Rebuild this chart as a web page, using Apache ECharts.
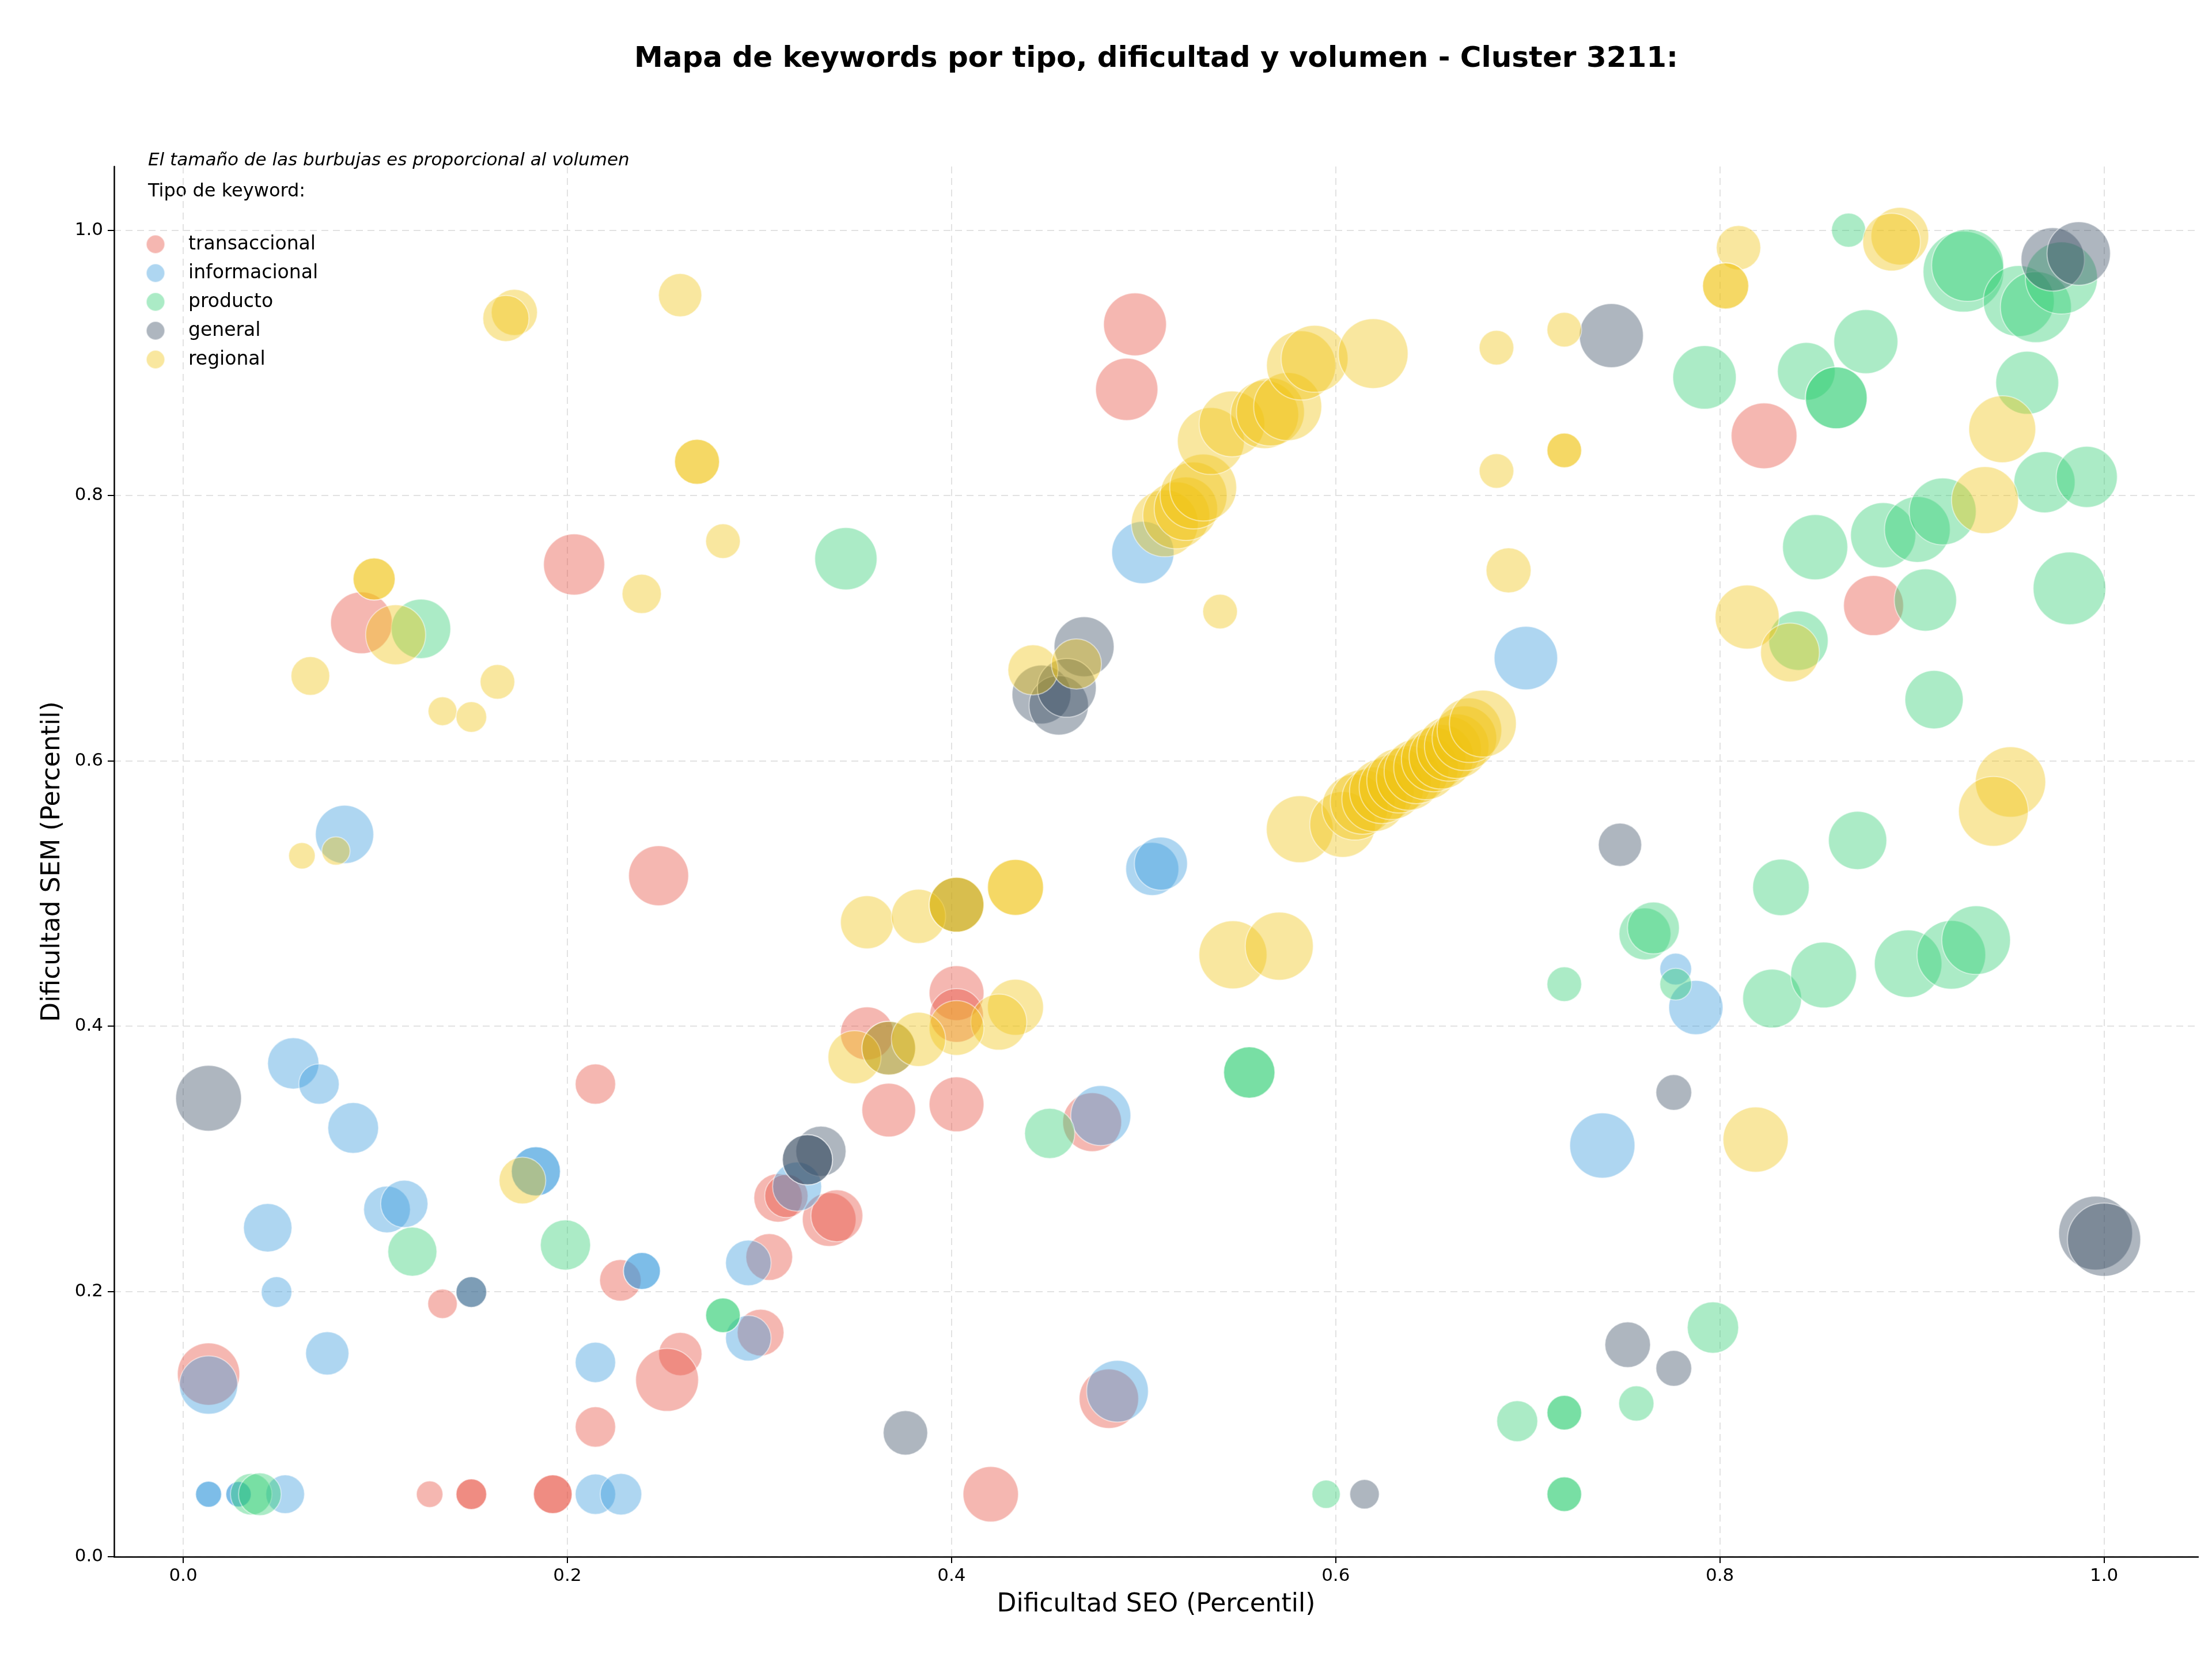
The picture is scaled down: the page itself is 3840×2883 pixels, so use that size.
<!DOCTYPE html>
<html>
<head>
<meta charset="utf-8">
<script src="https://cdn.jsdelivr.net/npm/echarts@6/dist/echarts.min.js"></script>
<style>
  html, body { margin: 0; padding: 0; background: #fff; }
  #chart { width: 3840px; height: 2883px; }
</style>
</head>
<body>
<div id="chart"></div>
<script>
// [dificultad SEO, dificultad SEM, volumen]
var transaccional = [
  [0.0132, 0.1377, 729], [0.0928, 0.704, 716], [0.2035, 0.748, 702], [0.2475, 0.5134, 676],
  [0.2146, 0.3563, 306], [0.135, 0.1907, 163], [0.2276, 0.2084, 324], [0.2588, 0.1528, 352],
  [0.2519, 0.1333, 743], [0.2146, 0.0978, 306], [0.1283, 0.0471, 132], [0.150, 0.0471, 176],
  [0.150, 0.0471, 176], [0.1924, 0.0471, 281], [0.1924, 0.0471, 281], [0.4204, 0.0471, 576],
  [0.3051, 0.2259, 410], [0.3006, 0.169, 410], [0.4955, 0.929, 743], [0.4912, 0.880, 729],
  [0.4026, 0.4249, 564], [0.4026, 0.408, 541], [0.356, 0.3945, 529], [0.3673, 0.3367, 541],
  [0.4026, 0.341, 564], [0.3097, 0.2705, 441], [0.314, 0.272, 352], [0.3363, 0.2542, 541],
  [0.3403, 0.257, 506], [0.4732, 0.3276, 650], [0.4819, 0.1191, 663], [0.823, 0.845, 812],
  [0.880, 0.717, 676]
];
var informacional = [
  [0.0132, 0.1294, 638], [0.0573, 0.3719, 495], [0.0707, 0.3563, 306], [0.0885, 0.3232, 484],
  [0.044, 0.248, 441], [0.1061, 0.2618, 410], [0.1151, 0.266, 420], [0.1836, 0.2905, 452],
  [0.1836, 0.2905, 452], [0.0486, 0.1995, 176], [0.150, 0.1995, 176], [0.2388, 0.2154, 256],
  [0.2388, 0.2154, 256], [0.075, 0.1533, 352], [0.2146, 0.1465, 306], [0.0132, 0.0471, 127],
  [0.0132, 0.0471, 127], [0.0288, 0.0471, 121], [0.0288, 0.0471, 121], [0.0531, 0.0471, 281],
  [0.2146, 0.0471, 306], [0.2279, 0.0471, 324], [0.084, 0.5445, 638], [0.4996, 0.757, 729],
  [0.5045, 0.5185, 529], [0.509, 0.5225, 529], [0.3196, 0.279, 452], [0.2942, 0.2215, 390],
  [0.2942, 0.1647, 390], [0.4777, 0.3326, 676], [0.4864, 0.1248, 716], [0.699, 0.6774, 756],
  [0.7388, 0.310, 798], [0.777, 0.443, 189], [0.7875, 0.414, 552]
];
var producto = [
  [0.1238, 0.6995, 663], [0.345, 0.7523, 729], [0.1193, 0.230, 452], [0.199, 0.235, 473],
  [0.0354, 0.0471, 324], [0.0399, 0.0471, 342], [0.281, 0.182, 225], [0.281, 0.182, 225],
  [0.4511, 0.3191, 473], [0.555, 0.365, 495], [0.555, 0.365, 495], [0.595, 0.0471, 150],
  [0.6945, 0.1022, 315], [0.719, 0.1086, 225], [0.719, 0.1086, 225], [0.719, 0.0471, 225],
  [0.719, 0.0471, 225], [0.7565, 0.1155, 233], [0.719, 0.4316, 225], [0.761, 0.4695, 506],
  [0.7654, 0.474, 506], [0.777, 0.4316, 189], [0.7964, 0.1728, 495], [0.8318, 0.5046, 600],
  [0.8272, 0.4208, 650], [0.854, 0.4385, 812], [0.898, 0.447, 856], [0.9205, 0.4537, 885],
  [0.9334, 0.4648, 885], [0.8717, 0.540, 638], [0.9115, 0.6461, 638], [0.8409, 0.6906, 663],
  [0.907, 0.7212, 729], [0.982, 0.730, 992], [0.8496, 0.761, 798], [0.885, 0.770, 798],
  [0.9028, 0.7744, 812], [0.916, 0.788, 841], [0.969, 0.810, 702], [0.991, 0.814, 702],
  [0.960, 0.885, 743], [0.792, 0.889, 756], [0.845, 0.8936, 625], [0.8606, 0.8736, 716],
  [0.8606, 0.8736, 716], [0.876, 0.916, 770], [0.867, 1.0, 218], [0.9268, 0.9687, 1225],
  [0.929, 0.9735, 977], [0.9556, 0.9466, 946], [0.9645, 0.942, 946], [0.9778, 0.964, 977]
];
var general = [
  [0.0132, 0.3456, 812], [0.150, 0.1995, 176], [0.376, 0.0934, 371], [0.615, 0.0471, 163],
  [0.332, 0.3057, 473], [0.325, 0.2992, 473], [0.325, 0.2992, 473], [0.3673, 0.3834, 541],
  [0.4026, 0.4915, 564], [0.469, 0.686, 676], [0.4468, 0.650, 650], [0.4558, 0.6418, 663],
  [0.460, 0.655, 650], [0.7435, 0.9205, 770], [0.748, 0.5367, 352], [0.776, 0.350, 240],
  [0.752, 0.1598, 390], [0.776, 0.142, 240], [0.9733, 0.978, 756], [0.9868, 0.9824, 756],
  [0.9956, 0.244, 1024], [1.0, 0.239, 1008]
];
var regional = [
  [0.1724, 0.938, 400], [0.168, 0.9335, 400], [0.0994, 0.737, 333], [0.0994, 0.737, 333],
  [0.1106, 0.695, 676], [0.0662, 0.664, 281], [0.1636, 0.6595, 225], [0.135, 0.6374, 156],
  [0.150, 0.633, 176], [0.2387, 0.7258, 289], [0.0795, 0.532, 150], [0.0618, 0.5284, 132],
  [0.2587, 0.951, 352], [0.2675, 0.8254, 380], [0.2675, 0.8254, 380], [0.281, 0.7656, 225],
  [0.4424, 0.6685, 473], [0.465, 0.673, 473],
  [0.511, 0.779, 841], [0.517, 0.785, 841], [0.522, 0.790, 756], [0.526, 0.800, 841],
  [0.531, 0.806, 841], [0.535, 0.841, 841], [0.546, 0.854, 812], [0.563, 0.861, 870],
  [0.566, 0.863, 870], [0.575, 0.867, 870], [0.582, 0.898, 900], [0.589, 0.903, 841],
  [0.6195, 0.907, 915], [0.5398, 0.7125, 225], [0.6837, 0.9114, 225], [0.719, 0.925, 225],
  [0.6837, 0.8185, 225], [0.719, 0.834, 225], [0.719, 0.834, 225], [0.690, 0.7435, 380],
  [0.5813, 0.5484, 841], [0.6036, 0.552, 812], [0.610, 0.565, 812], [0.614, 0.569, 784],
  [0.620, 0.571, 784], [0.624, 0.577, 784], [0.629, 0.580, 784], [0.633, 0.585, 784],
  [0.638, 0.587, 784], [0.642, 0.592, 784], [0.647, 0.595, 784], [0.651, 0.601, 784],
  [0.655, 0.603, 784], [0.659, 0.609, 784], [0.663, 0.611, 784], [0.667, 0.617, 784],
  [0.6696, 0.623, 784], [0.6766, 0.628, 841],
  [0.5465, 0.4537, 870], [0.5706, 0.4603, 870], [0.356, 0.4783, 529], [0.3828, 0.4827, 552],
  [0.4026, 0.4915, 564], [0.4026, 0.4915, 564], [0.4333, 0.5046, 588], [0.4333, 0.5046, 588],
  [0.4333, 0.4142, 588], [0.4246, 0.403, 588], [0.4026, 0.3986, 564], [0.3495, 0.3766, 529],
  [0.3673, 0.3834, 541], [0.3828, 0.390, 552], [0.1766, 0.2836, 410], [0.8097, 0.9868, 371],
  [0.803, 0.958, 400], [0.803, 0.958, 400], [0.8937, 0.9955, 625], [0.8894, 0.991, 625],
  [0.947, 0.850, 841], [0.938, 0.7965, 841], [0.8142, 0.7084, 770], [0.8365, 0.6817, 650],
  [0.9513, 0.584, 930], [0.9424, 0.5619, 915], [0.8186, 0.3144, 798]
];

var tipos = ['transaccional', 'informacional', 'producto', 'general', 'regional'];
var colores = ['#E74C3C', '#3498DB', '#2ECC71', '#34495E', '#F1C40F'];
var ticks = [0, 0.2, 0.4, 0.6, 0.8, 1.0];

var font = 'DejaVu Sans';

function rgba(hex, a) {
  var n = parseInt(hex.slice(1), 16);
  return 'rgba(' + (n >> 16) + ',' + ((n >> 8) & 255) + ',' + (n & 255) + ',' + a + ')';
}

var datos = [transaccional, informacional, producto, general, regional];

var series = tipos.map(function (t, i) {
  return {
    name: t,
    type: 'scatter',
    data: datos[i],
    symbol: 'circle',
    // el area de la burbuja es proporcional al volumen
    symbolSize: function (v) { return Math.sqrt(v[2]) * 4; },
    itemStyle: {
      color: rgba(colores[i], 0.5),
      borderColor: 'rgba(255,255,255,0.6)',
      borderWidth: 2
    },
    emphasis: { disabled: true }
  };
});

var axisCommon = {
  type: 'value',
  axisLine: { show: true, onZero: false, lineStyle: { color: '#000', width: 2.5 } },
  axisTick: { show: true, length: 11, customValues: ticks, lineStyle: { color: '#000', width: 2 } },
  axisLabel: {
    customValues: ticks,
    formatter: function (v) { return v.toFixed(1); },
    fontSize: 31, color: '#000', fontFamily: font
  },
  splitLine: { show: true, lineStyle: { type: [12, 8], color: '#e2e2e2', width: 2 } },
  nameLocation: 'middle',
  nameTextStyle: { fontSize: 44, color: '#000', fontFamily: font }
};

var chart = echarts.init(document.getElementById('chart'));
chart.setOption({
  animation: false,
  backgroundColor: '#fff',
  grid: { left: 198, right: 24, top: 289, bottom: 181 },
  xAxis: Object.assign({}, axisCommon, {
    min: -0.036, max: 1.049,
    name: 'Dificultad SEO (Percentil)', nameGap: 62,
    axisLabel: Object.assign({}, axisCommon.axisLabel, { margin: 18 })
  }),
  yAxis: Object.assign({}, axisCommon, {
    min: 0, max: 1.048,
    name: 'Dificultad SEM (Percentil)', nameGap: 84,
    axisLabel: Object.assign({}, axisCommon.axisLabel, { margin: 19 })
  }),
  legend: {
    data: tipos,
    orient: 'vertical',
    left: 248, top: 402,
    icon: 'circle',
    itemWidth: 32, itemHeight: 32, itemGap: 16,
    textStyle: { fontSize: 33, lineHeight: 32, color: '#000', fontFamily: font, padding: [0, 0, 0, 36] }
  },
  graphic: [
    {
      type: 'text', x: 2007, y: 103,
      style: {
        text: 'Mapa de keywords por tipo, dificultad y volumen - Cluster 3211:',
        font: 'bold 50px "DejaVu Sans"', fill: '#000',
        textAlign: 'center', textVerticalAlign: 'middle'
      }
    },
    {
      type: 'text', x: 257, y: 279,
      style: {
        text: 'El tamaño de las burbujas es proporcional al volumen',
        font: 'italic 31px "DejaVu Sans"', fill: '#000',
        textAlign: 'left', textVerticalAlign: 'middle'
      }
    },
    {
      type: 'text', x: 257, y: 333,
      style: {
        text: 'Tipo de keyword:',
        font: '32px "DejaVu Sans"', fill: '#000',
        textAlign: 'left', textVerticalAlign: 'middle'
      }
    }
  ],
  series: series
});
</script>
</body>
</html>
